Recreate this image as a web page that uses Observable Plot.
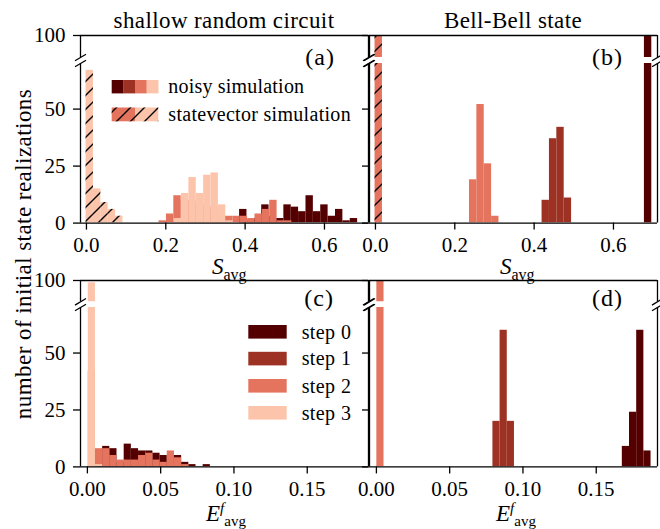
<!DOCTYPE html>
<html><head><meta charset="utf-8">
<script src="https://cdn.jsdelivr.net/npm/d3@7"></script>
<script src="https://cdn.jsdelivr.net/npm/@observablehq/plot@0.6"></script>
<style>
body{margin:0;background:#fff;}
#fig{position:relative;width:660px;height:529px;overflow:hidden;background:#fff;}
#fig svg.piece{position:absolute;}
#fig svg.piece line, #fig svg.piece path{stroke-width:1.3px;}
</style></head>
<body><div id="fig"></div>
<script>
// ---------------- data ----------------
const titles = ["shallow random circuit", "Bell-Bell state"];
const yAxisLabel = "number of initial state realizations";
const panelTags = ["(a)", "(b)", "(c)", "(d)"];
const legendNames = ["noisy simulation", "statevector simulation"];
const stepNames = ["step 0", "step 1", "step 2", "step 3"];

const topTicks = [0, 0.2, 0.4, 0.6];
const bottomTicks = [0, 0.05, 0.1, 0.15];
const lowerCountTicks = [0, 25, 50];
const upperCountTicks = [100];

const topBinWidth = 0.0186;
const bottomBinWidth = 0.0049;

// (a) shallow random circuit, S_avg
const aNoisy0Start = 0.386;
const aNoisy0 = [6, 1, 2, 8, 3, 2, 8, 7, 5, 12, 5, 8, 3, 6, 1, 2];
const aNoisy2Start = 0.183;
const aNoisy2 = [1, 4, 12, 10, 10, 9, 8, 7, 4, 3, 3, 3, 2, 4, 6, 10, 1, 1];
const aNoisy3Start = 0.221;
const aNoisy3 = [2, 13, 20, 13, 21, 22, 8, 1];
const aState3Start = -0.001;
const aState3 = [67, 15, 9, 6, 3];

// (b) Bell-Bell state, S_avg
const bState2Start = -0.001;
const bState2 = [100];
const bNoisy2Start = 0.237;
const bNoisy2 = [19, 52, 26, 3];
const bNoisy1Start = 0.420;
const bNoisy1 = [10, 37, 42, 11];
const bNoisy0Start = 0.678;
const bNoisy0 = [100];

// (c) shallow random circuit, E^f_avg
const cNoisy0Start = 0.0055;
const cNoisy0 = [7, 9, 8, 2, 10, 8, 7, 7, 6, 5, 5, 5, 2, 1, 0, 1];
const cNoisy2Start = 0.0006;
const cNoisy2 = [42, 8, 8, 5, 3, 3, 3, 5, 6, 3, 2, 7, 4, 1];
const cNoisy3Start = 0.0006;
const cNoisy3 = [99, 1];

// (d) Bell-Bell state, E^f_avg
const dNoisy2Start = 0.0003;
const dNoisy2 = [100];
const dNoisy1Start = 0.0795;
const dNoisy1 = [20, 60, 20];
const dNoisy0Start = 0.1678;
const dNoisy0 = [9, 24, 60, 7];

// ---------------- styles / layout ----------------
const stepColors = ["#550000", "#9d3224", "#e5745f", "#fcc5ab"];
const FONT = "'Liberation Serif', 'Times New Roman', serif";
const topDomain = [-0.015, 0.711];
const bottomDomain = [-0.0047, 0.1918];
const pxPerCount = 2.28;
const cols = [{left: 80, w: 288, mL: 80}, {left: 369, w: 288, mL: 12}];
const rows = [
  {upTop: 35, upH: 22, loTop: 62.7, loH: 159.6},
  {upTop: 279.5, upH: 21.3, loTop: 307.3, loH: 159.4}
];

const fig = document.getElementById("fig");

function bins(start, width, counts) {
  return counts.map((n, i) => ({x1: start + i * width, x2: start + (i + 1) * width, n}));
}

const slash = {
  draw(ctx, size) {
    const r = Math.sqrt(size / Math.PI);
    ctx.moveTo(-r, r * 0.6);
    ctx.lineTo(r, -r * 0.6);
  }
};

function piece({col, row, part, xDomain, xTicks, xFormat, showYLabels, series}) {
  const c = cols[col], r = rows[row];
  const h = part === "upper" ? r.upH : r.loH;
  const top = part === "upper" ? r.upTop : r.loTop;
  const yDomain = part === "upper" ? [100 - h / pxPerCount, 100] : [0, 70];
  const mT = 8, mR = 12, mB = part === "upper" ? 8 : 40;
  const marks = [];
  for (const s of series) {
    const data = bins(s.start, s.width, s.counts);
    marks.push(Plot.rect(data, {x1: "x1", x2: "x2", y1: () => 0, y2: "n", fill: s.color, clip: true}));
    if (s.hatch) marks.push(Plot.rect(data, {x1: "x1", x2: "x2", y1: () => 0, y2: "n", fill: "url(#hatch)", clip: true}));
  }
  marks.push(Plot.ruleX(xDomain, {stroke: "#000", strokeWidth: 1.3}));
  marks.push(Plot.ruleY([part === "upper" ? yDomain[1] : yDomain[0]], {stroke: "#000", strokeWidth: 1.3}));
  const edge = part === "upper" ? yDomain[0] : yDomain[1];
  marks.push(Plot.dot(xDomain.map(x => ({x, y: edge})), {x: "x", y: "y", symbol: slash, r: 5.5, stroke: "#000", strokeWidth: 1.3, fill: "none"}));
  const svg = Plot.plot({
    width: c.mL + c.w + mR,
    height: mT + h + mB,
    marginLeft: c.mL, marginRight: mR, marginTop: mT, marginBottom: mB,
    x: {domain: xDomain, ticks: xTicks, tickFormat: xFormat, tickSize: 7, tickPadding: 7, label: null,
        axis: part === "lower" ? "bottom" : null},
    y: {domain: yDomain, ticks: part === "upper" ? upperCountTicks : lowerCountTicks,
        tickFormat: showYLabels ? (d => String(d)) : (() => ""), tickSize: 7, tickPadding: 8, label: null, axis: "left"},
    style: {background: "transparent", overflow: "visible", fontFamily: FONT, fontSize: "21px", color: "#000"},
    marks
  });
  svg.classList.add("piece");
  svg.style.left = (c.left - c.mL) + "px";
  svg.style.top = (top - mT) + "px";
  fig.appendChild(svg);
}

const fmtTop = d3.format(".1f");
const fmtBottom = d3.format(".2f");

const panels = [
  {col: 0, row: 0, xDomain: topDomain, xTicks: topTicks, xFormat: fmtTop, showYLabels: true, series: [
    {start: aNoisy0Start, width: topBinWidth, counts: aNoisy0, color: stepColors[0]},
    {start: aNoisy2Start, width: topBinWidth, counts: aNoisy2, color: stepColors[2]},
    {start: aNoisy3Start, width: topBinWidth, counts: aNoisy3, color: stepColors[3]},
    {start: aState3Start, width: topBinWidth, counts: aState3, color: stepColors[3], hatch: true}
  ]},
  {col: 1, row: 0, xDomain: topDomain, xTicks: topTicks, xFormat: fmtTop, showYLabels: false, series: [
    {start: bState2Start, width: topBinWidth, counts: bState2, color: stepColors[2], hatch: true},
    {start: bNoisy2Start, width: topBinWidth, counts: bNoisy2, color: stepColors[2]},
    {start: bNoisy1Start, width: topBinWidth, counts: bNoisy1, color: stepColors[1]},
    {start: bNoisy0Start, width: topBinWidth, counts: bNoisy0, color: stepColors[0]}
  ]},
  {col: 0, row: 1, xDomain: bottomDomain, xTicks: bottomTicks, xFormat: fmtBottom, showYLabels: true, series: [
    {start: cNoisy0Start, width: bottomBinWidth, counts: cNoisy0, color: stepColors[0]},
    {start: cNoisy2Start, width: bottomBinWidth, counts: cNoisy2, color: stepColors[2]},
    {start: cNoisy3Start, width: bottomBinWidth, counts: cNoisy3, color: stepColors[3]}
  ]},
  {col: 1, row: 1, xDomain: bottomDomain, xTicks: bottomTicks, xFormat: fmtBottom, showYLabels: false, series: [
    {start: dNoisy2Start, width: bottomBinWidth, counts: dNoisy2, color: stepColors[2]},
    {start: dNoisy1Start, width: bottomBinWidth, counts: dNoisy1, color: stepColors[1]},
    {start: dNoisy0Start, width: bottomBinWidth, counts: dNoisy0, color: stepColors[0]}
  ]}
];
for (const p of panels) {
  piece({...p, part: "upper"});
  piece({...p, part: "lower"});
}

// ---------------- annotations: titles, labels, legends ----------------
const NS = "http://www.w3.org/2000/svg";
const ann = document.createElementNS(NS, "svg");
ann.setAttribute("width", 660); ann.setAttribute("height", 529);
ann.style.cssText = "position:absolute;left:0;top:0;pointer-events:none;overflow:visible";
ann.setAttribute("font-family", FONT);
fig.appendChild(ann);
function el(tag, attrs, parent = ann, text) {
  const e = document.createElementNS(NS, tag);
  for (const k in attrs) e.setAttribute(k, attrs[k]);
  if (text !== undefined) e.textContent = text;
  parent.appendChild(e);
  return e;
}
const defs = el("defs", {});
const pat = el("pattern", {id: "hatch", patternUnits: "userSpaceOnUse", width: 14, height: 14}, defs);
el("path", {d: "M-3.5,3.5L3.5,-3.5M0,14L14,0M10.5,17.5L17.5,10.5", stroke: "#000", "stroke-width": 1.4, fill: "none"}, pat);

// titles
el("text", {x: 224, y: 28, "text-anchor": "middle", "font-size": 23, "letter-spacing": 0.4}, ann, titles[0]);
el("text", {x: 513, y: 28, "text-anchor": "middle", "font-size": 23, "letter-spacing": 0.4}, ann, titles[1]);
// y label
el("text", {transform: "translate(31,254) rotate(-90)", "text-anchor": "middle", "font-size": 23, "letter-spacing": 0.45}, ann, yAxisLabel);
// x labels S_avg (one text element each)
for (const cx of [212, 500]) {
  const t = el("text", {x: cx, y: 274, "font-size": 23});
  el("tspan", {"font-style": "italic"}, t, "S");
  el("tspan", {"font-size": 16, dy: 6}, t, "avg");
}
// x labels E^f_avg (one text element each)
for (const ex of [206, 496]) {
  const t = el("text", {x: ex, y: 521, "font-size": 23});
  el("tspan", {"font-style": "italic"}, t, "E");
  el("tspan", {"font-size": 15, "font-style": "italic", dy: -8}, t, "f");
  el("tspan", {"font-size": 15, dx: 0, dy: 12.5}, t, "avg");
}
// panel tags
const tagPos = [[335, 65], [623, 65], [334, 306], [623, 306]];
panelTags.forEach((t, i) => el("text", {x: tagPos[i][0], y: tagPos[i][1], "text-anchor": "end", "font-size": 24, "letter-spacing": 1}, ann, t));

// legend (a)
const sw = 11.65;
stepColors.forEach((c, i) => el("rect", {x: 111.7 + i * sw, y: 80, width: sw + 0.2, height: 13.4, fill: c}));
el("rect", {x: 111.7, y: 107.5, width: 2 * sw, height: 13.8, fill: stepColors[2]});
el("rect", {x: 111.7 + 2 * sw, y: 107.5, width: 2 * sw, height: 13.8, fill: stepColors[3]});
el("rect", {x: 111.7, y: 107.5, width: 4 * sw, height: 13.8, fill: "url(#hatch)"});
el("text", {x: 168.3, y: 92.5, "font-size": 20, "letter-spacing": 0.2}, ann, legendNames[0]);
el("text", {x: 168.3, y: 120.5, "font-size": 20, "letter-spacing": 0.3}, ann, legendNames[1]);

// legend (c)
const legY = [325, 351.8, 379, 406];
stepNames.forEach((s, i) => {
  el("rect", {x: 248.3, y: legY[i], width: 38.4, height: 13.6, fill: stepColors[i]});
  el("text", {x: 301.7, y: legY[i] + 13.5, "font-size": 20, "letter-spacing": 0.4}, ann, s);
});
</script></body></html>
